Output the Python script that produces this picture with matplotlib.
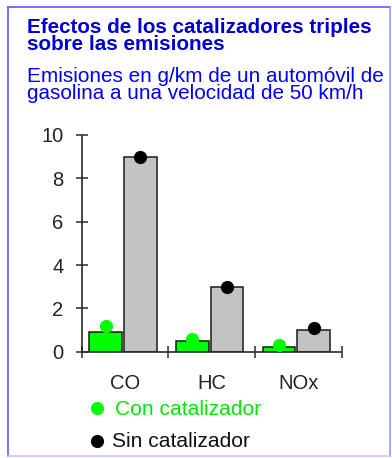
import matplotlib
matplotlib.use("Agg")
import matplotlib.pyplot as plt
from matplotlib.lines import Line2D

# Emissions in g/km, petrol car at 50 km/h
categories = ["CO", "HC", "NOx"]
con_catalizador_bar = [0.9, 0.5, 0.2]
sin_catalizador_bar = [9.0, 3.0, 1.0]
con_catalizador_dot = [1.2, 0.6, 0.3]
sin_catalizador_dot = [9.0, 3.0, 1.1]
y_ticks = [0, 2, 4, 6, 8, 10]

W, H = 392, 458
DPI = 100
FONT = "Liberation Sans"
GREEN = "#00ff00"
GREY = "#c3c3c3"
BLUE_TITLE = "#0000d0"
BLUE_SUB = "#0000ff"

fig = plt.figure(figsize=(W / DPI, H / DPI), dpi=DPI)
fig.patch.set_facecolor("white")


def px(x, y):
    return x / W, 1 - y / H


def place_text(x, y, s, size, **kw):
    return fig.text(*px(x, y), s, family=FONT, va="baseline", ha="left",
                    fontsize=size, **kw)


def fit_size(s, width_px, **kw):
    """Font size at which the string spans the given pixel width."""
    t = fig.text(0, 0, s, family=FONT, fontsize=12, **kw)
    w = t.get_window_extent(renderer=fig.canvas.get_renderer()).width
    t.remove()
    return 12 * width_px / w


# Frame around the figure
for (x0, y0, x1, y1, c) in [
    (8, 7, 8, 456, "#5a5aff"),
    (8, 7, 390, 7, "#5a5aff"),
    (390, 7, 390, 456, "#9a9aff"),
    (8, 456, 390, 456, "#c8c8ff"),
]:
    fig.add_artist(Line2D([x0 / W, x1 / W], [1 - y0 / H, 1 - y1 / H],
                          transform=fig.transFigure, color=c, lw=1.2))

# Titles (two-line blocks, tight leading)
title_1 = "Efectos de los catalizadores triples"
title_2 = "sobre las emisiones"
sub_1 = "Emisiones en g/km de un automóvil de"
sub_2 = "gasolina a una velocidad de 50 km/h"
ts = fit_size(title_1, 343, fontweight="bold")
place_text(27, 50, title_1 + "\n" + title_2, ts, color=BLUE_TITLE,
           fontweight="bold", linespacing=0.88)
ss = fit_size(sub_1, 358)
place_text(27, 99, sub_1 + "\n" + sub_2, ss, color=BLUE_SUB,
           linespacing=0.85)

# Chart area
ax = fig.add_axes([81.7 / W, (H - 351.7) / H, 260 / W, (351.7 - 135) / H])
ax.set_xlim(0, 3)
ax.set_ylim(0, 10)
ax.patch.set_alpha(0)
for s in ("top", "right"):
    ax.spines[s].set_visible(False)
for s in ("left", "bottom"):
    ax.spines[s].set_color("#2a2a2a")
    ax.spines[s].set_linewidth(1.2)
    ax.spines[s].set_capstyle("butt")

bar_w = 0.378
off_green = 0.277
off_grey = 0.677
xs = range(len(categories))
ax.bar([i + off_green for i in xs], con_catalizador_bar, width=bar_w,
       color=GREEN, edgecolor="#1a1a1a", linewidth=1.1, zorder=2)
ax.bar([i + off_grey for i in xs], sin_catalizador_bar, width=bar_w,
       color=GREY, edgecolor="#1a1a1a", linewidth=1.1, zorder=2)
ax.plot([i + off_green for i in xs], con_catalizador_dot, "o", color=GREEN,
        markersize=9.5, markeredgewidth=0, zorder=3, clip_on=False)
ax.plot([i + off_grey for i in xs], sin_catalizador_dot, "o", color="black",
        markersize=9.5, markeredgewidth=0, zorder=3, clip_on=False)

ax.set_yticks(y_ticks)
ax.set_yticklabels([str(v) for v in y_ticks], family=FONT, fontsize=14.5,
                   color="#222222")
ax.tick_params(axis="y", direction="inout", length=8.5, width=1.1,
               color="#2a2a2a", pad=9)

ax.set_xticks([0, 1, 2, 3])
ax.set_xticklabels([])
ax.tick_params(axis="x", which="major", direction="inout", length=8.5,
               width=1.1, color="#2a2a2a")
ax.set_xticks([i + 0.5 for i in xs], minor=True)
ax.set_xticklabels(categories, minor=True, family=FONT, fontsize=14.5,
                   color="#222222")
ax.tick_params(axis="x", which="minor", length=0, pad=16)

# Legend
fig.add_artist(Line2D([97 / W], [1 - 408 / H], transform=fig.transFigure,
                      marker="o", color=GREEN, markersize=9.5,
                      markeredgewidth=0, linestyle="none"))
fig.add_artist(Line2D([97 / W], [1 - 441 / H], transform=fig.transFigure,
                      marker="o", color="black", markersize=9.5,
                      markeredgewidth=0, linestyle="none"))
ls = fit_size("Con catalizador", 147)
place_text(115, 415, "Con catalizador", ls, color="#00e800")
place_text(112, 447, "Sin catalizador", ls, color="#111111")

fig.savefig("out.png", dpi=DPI)
